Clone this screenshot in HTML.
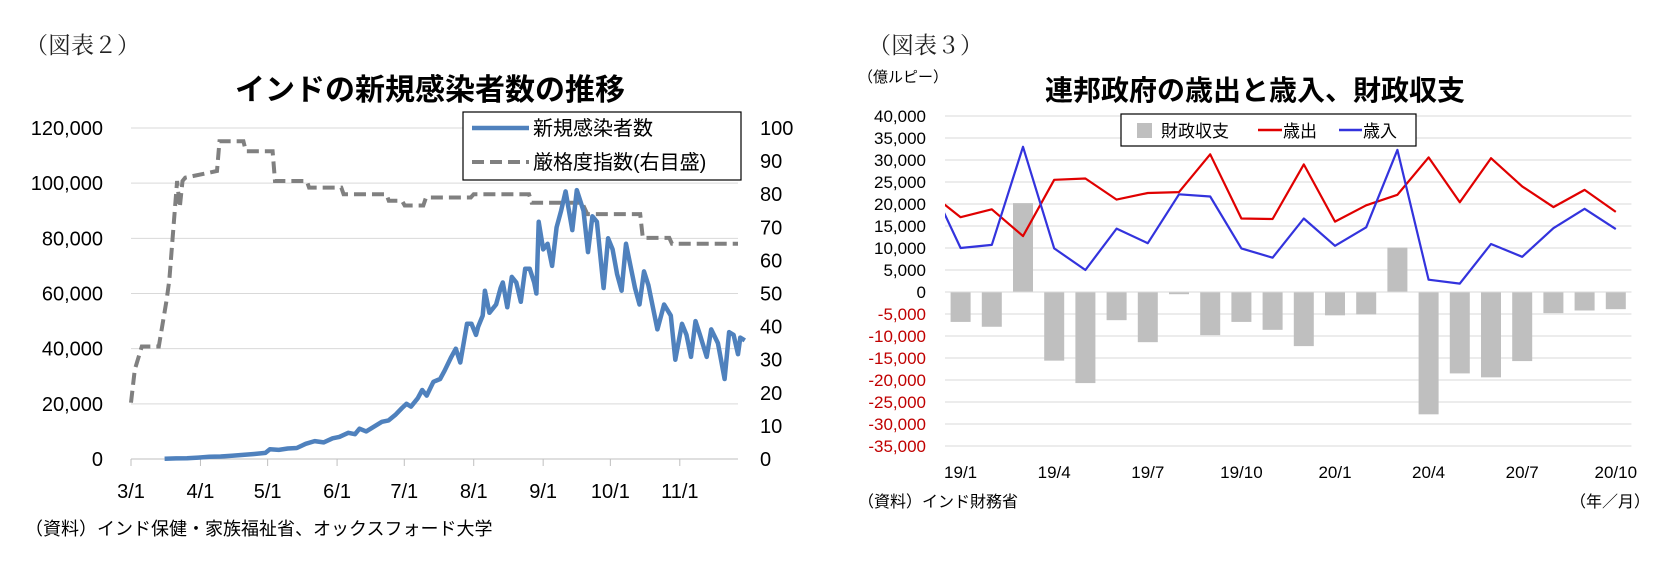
<!DOCTYPE html>
<html><head><meta charset="utf-8">
<style>
html,body{margin:0;padding:0;background:#fff;}
svg{display:block;font-family:"Liberation Sans","Noto Sans CJK JP",sans-serif;}
.serif{font-family:"Liberation Serif","Noto Serif CJK SC",serif;}
</style></head>
<body>
<svg id="root" width="1676" height="566" viewBox="0 0 1676 566" xmlns="http://www.w3.org/2000/svg">
  <text x="25" y="53" font-size="23" class="serif" fill="#222">（図表２）</text>
  <text x="430" y="100" font-size="30" font-weight="bold" text-anchor="middle" fill="#000">インドの新規感染者数の推移</text>
  <g id="left"></g>
  <text x="25" y="535" font-size="18" fill="#000">（資料）インド保健・家族福祉省、オックスフォード大学</text>

  <text x="868" y="53" font-size="23" class="serif" fill="#222">（図表３）</text>
  <text x="858" y="82" font-size="15" fill="#000">（億ルピー）</text>
  <text x="1255" y="100" font-size="28" font-weight="bold" text-anchor="middle" fill="#000">連邦政府の歳出と歳入、財政収支</text>
  <g id="right"></g>
  <text x="858" y="507" font-size="16" fill="#000">（資料）インド財務省</text>
  <text x="1650" y="507" font-size="16" fill="#000" text-anchor="end">（年／月）</text>
</svg>
<script>
// ---------- Left chart data ----------
const caseDays = [15,20,25,30,35,40,45,50,55,60,62,66,70,74,78,82,86,90,93,97,100,102,105,108,112,115,118,121,123,125,128,130,132,135,138,140,143,145,147,150,152,154,155,157,158,160,163,165,166,168,170,172,174,176,178,180,181,182,184,186,188,190,192,194,197,199,202,204,206,208,211,213,215,217,219,221,223,225,227,229,231,233,235,238,241,243,246,248,250,252,254,257,259,262,265,267,269,271,272,274];
const caseValues = [100,200,300,500,800,900,1200,1500,1800,2200,3500,3300,3800,4000,5500,6500,6000,7500,8000,9500,9000,11000,10000,11500,13500,14000,16000,18500,20000,19000,22000,25000,23000,28000,29000,32000,37000,40000,35000,49000,49000,45000,48000,52000,61000,53000,56000,62000,64000,55000,66000,64000,57000,69000,69000,64000,60000,86000,76000,78000,70000,84000,90000,97000,83000,97500,90000,75000,88000,86000,62000,80000,76000,67000,61000,78000,70000,62000,56000,68000,63000,55000,47000,56000,52000,36000,49000,45000,37000,50000,45000,37000,47000,42000,29000,46000,45000,38000,44000,43000];
const siDays = [0,1.7,4.8,12.4,15.9,17.1,20.6,21.8,23,24.2,38.4,39.5,50.2,51.3,63.2,64.3,78.5,79.5,93.9,94.9,114,115.1,121,122.2,130.5,131.7,151.7,153,177.7,178.9,201.4,203.7,227.3,228.5,240.3,241.5,271];
const siValues = [17,27,34,34,48,54,84,76,84,85,87,96,96,93,93,84,84,82,82,80,80,78,78,76.6,76.6,79,79,80,80,77.4,77.4,74,74,66.8,66.8,65,65];
const leftTicks = ["0","20,000","40,000","60,000","80,000","100,000","120,000"];
const rightTicks = ["0","10","20","30","40","50","60","70","80","90","100"];
const monthLabels = ["3/1","4/1","5/1","6/1","7/1","8/1","9/1","10/1","11/1"];
const monthDays = [0,31,61,92,122,153,184,214,245];

// ---------- Right chart data ----------
const catLabels = ["19/1","","","19/4","","","19/7","","","19/10","","","20/1","","","20/4","","","20/7","","","20/10"];
const expenditure = [17000,18800,12700,25500,25800,21000,22500,22700,31300,16700,16600,29000,16000,19700,22100,30600,20400,30400,24000,19300,23200,18200];
const revenue = [10000,10700,33000,9900,5000,14400,11100,22200,21700,9900,7800,16700,10500,14700,32300,2800,1900,10900,8000,14500,18900,14300];
const balance = [-6800,-7900,20200,-15600,-20700,-6400,-11400,-500,-9800,-6800,-8600,-12300,-5300,-5100,10100,-27800,-18500,-19400,-15700,-4800,-4200,-3900];
const prevExpenditure = 22600;
const prevRevenue = 25100;
const rTickValues = [40000,35000,30000,25000,20000,15000,10000,5000,0,-5000,-10000,-15000,-20000,-25000,-30000,-35000];

const NS = "http://www.w3.org/2000/svg";
function mk(tag, attrs, parent, txt){
  const e = document.createElementNS(NS, tag);
  for (const k in attrs) e.setAttribute(k, attrs[k]);
  if (txt !== undefined) e.textContent = txt;
  parent.appendChild(e);
  return e;
}

// ===== Left chart =====
(function(){
  const g = document.getElementById('left');
  const X0 = 131, PX = 2.24, Y0 = 459, YT = 128, XR = 738;
  const x = d => X0 + d * PX;
  const yL = v => Y0 - (v / 120000) * (Y0 - YT);
  const yR = v => Y0 - (v / 100) * (Y0 - YT);
  leftTicks.forEach((t, i) => {
    const yy = yL(i * 20000);
    const ln = mk('line', {x1: X0, x2: XR, y1: yy, y2: yy, stroke: i === 0 ? '#bfbfbf' : '#d9d9d9', 'stroke-width': 1}, g);
    
    
    const tx = mk('text', {x: 103, y: yy + 7, 'font-size': 20, 'text-anchor': 'end', fill: '#000'}, g, t);
    
    
  });
  rightTicks.forEach((t, i) => {
    const tx = mk('text', {x: 760, y: yR(i * 10) + 7, 'font-size': 20, fill: '#000'}, g, t);
    
    
  });
  monthLabels.forEach((t, i) => {
    const xx = x(monthDays[i]);
    const tk = mk('line', {x1: xx, x2: xx, y1: Y0, y2: Y0 + 7, stroke: '#bfbfbf'}, g);
    
    
    const tx = mk('text', {x: xx, y: 498, 'font-size': 20, 'text-anchor': 'middle', fill: '#000'}, g, t);
    
    
  });
  const si = siDays.map((d, i) => x(d).toFixed(1) + ',' + yR(siValues[i]).toFixed(1)).join(' ');
  const p1 = mk('polyline', {points: si, fill: 'none', stroke: '#808080', 'stroke-width': 4, 'stroke-dasharray': '12,6'}, g);
  
  
  const cs = caseDays.map((d, i) => x(d).toFixed(1) + ',' + yL(caseValues[i]).toFixed(1)).join(' ');
  const p2 = mk('polyline', {points: cs, fill: 'none', stroke: '#4f81bd', 'stroke-width': 4.5, 'stroke-linejoin': 'round'}, g);
  
  
  // legend
  const lg = mk('g', {}, g);
  
  
  mk('rect', {x: 463, y: 112, width: 278, height: 68, fill: '#fff', stroke: '#000', 'stroke-width': 1.2}, lg);
  mk('line', {x1: 472, x2: 529, y1: 128, y2: 128, stroke: '#4f81bd', 'stroke-width': 4.5}, lg);
  mk('text', {x: 533, y: 135, 'font-size': 20, fill: '#000'}, lg, '新規感染者数');
  mk('line', {x1: 472, x2: 529, y1: 162, y2: 162, stroke: '#808080', 'stroke-width': 4, 'stroke-dasharray': '12,6'}, lg);
  mk('text', {x: 533, y: 169, 'font-size': 20, fill: '#000'}, lg, '厳格度指数(右目盛)');
})();

// ===== Right chart =====
(function(){
  const g = document.getElementById('right');
  const XL = 945, STEP = 31.2, XR = XL + 22 * STEP, Y0 = 292, PER = 22.0 / 5000;
  const cx = i => XL + STEP * (i + 0.5);
  const y = v => Y0 - v * PER;
  const defs = mk('defs', {}, g);
  const cp = mk('clipPath', {id: 'rclip'}, defs);
  mk('rect', {x: XL, y: 100, width: XR - XL, height: 360}, cp);
  rTickValues.forEach(v => {
    const yy = y(v);
    const ln = mk('line', {x1: XL, x2: XR, y1: yy, y2: yy, stroke: '#d9d9d9', 'stroke-width': 1}, g);
    
    
    const lab = v.toLocaleString('en-US');
    const tx = mk('text', {x: 926, y: yy + 6, 'font-size': 17, 'text-anchor': 'end', fill: v < 0 ? '#c00000' : '#000'}, g, lab);
    
    
  });
  balance.forEach((v, i) => {
    const top = v >= 0 ? y(v) : Y0;
    const r = mk('rect', {x: cx(i) - 10, y: top, width: 20, height: Math.abs(v) * PER, fill: '#bfbfbf'}, g);
    
    
  });
  const zl = mk('line', {x1: XL, x2: XR, y1: Y0, y2: Y0, stroke: '#d9d9d9'}, g);
  
  
  function line(vals, prev, color, name){
    const pts = [(cx(-1)).toFixed(1) + ',' + y(prev).toFixed(1)].concat(vals.map((v, i) => cx(i).toFixed(1) + ',' + y(v).toFixed(1))).join(' ');
    const p = mk('polyline', {points: pts, fill: 'none', stroke: color, 'stroke-width': 2.2, 'clip-path': 'url(#rclip)', 'stroke-linejoin': 'round'}, g);
    
    
  }
  line(expenditure, prevExpenditure, '#e00000', 'expenditure-line');
  line(revenue, prevRevenue, '#3333dd', 'revenue-line');
  catLabels.forEach((t, i) => {
    if (!t) return;
    const tx = mk('text', {x: cx(i), y: 478, 'font-size': 17, 'text-anchor': 'middle', fill: '#000'}, g, t);
    
    
  });
  const lg = mk('g', {}, g);
  
  
  mk('rect', {x: 1121, y: 114, width: 295, height: 32, fill: '#fff', stroke: '#000', 'stroke-width': 1.2}, lg);
  mk('rect', {x: 1137, y: 123, width: 15, height: 15, fill: '#bfbfbf'}, lg);
  mk('text', {x: 1161, y: 137, 'font-size': 17, fill: '#000'}, lg, '財政収支');
  mk('line', {x1: 1258, x2: 1282, y1: 130, y2: 130, stroke: '#e00000', 'stroke-width': 2.5}, lg);
  mk('text', {x: 1283, y: 137, 'font-size': 17, fill: '#000'}, lg, '歳出');
  mk('line', {x1: 1339, x2: 1362, y1: 130, y2: 130, stroke: '#3333dd', 'stroke-width': 2.5}, lg);
  mk('text', {x: 1363, y: 137, 'font-size': 17, fill: '#000'}, lg, '歳入');
})();
</script>
</body></html>
